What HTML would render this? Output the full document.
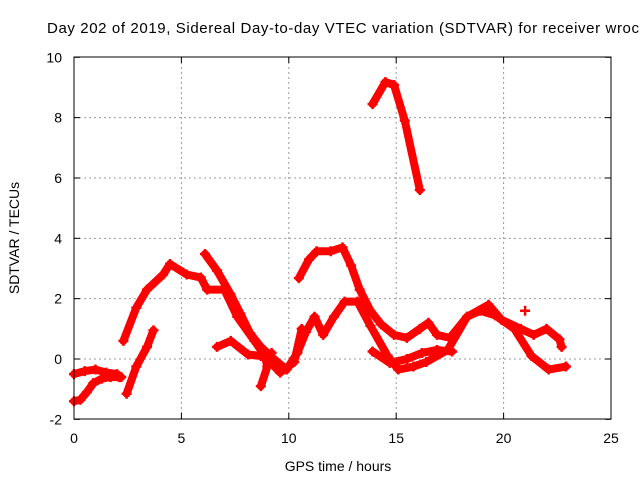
<!DOCTYPE html>
<html><head><meta charset="utf-8"><style>
body{margin:0;background:#fff}
svg{display:block;font-family:"Liberation Sans",sans-serif}
</style></head><body>
<svg id="c" width="640" height="480">
<text x="47" y="33" font-size="15" textLength="592" lengthAdjust="spacing">Day 202 of 2019, Sidereal Day-to-day VTEC variation (SDTVAR) for receiver wroc</text>
<g id="grid"></g><g id="ticks"></g><g id="series"></g>
<rect x="74" y="57" width="537" height="362" fill="none" stroke="#000" stroke-width="1"/>
<text x="338" y="471" font-size="14" text-anchor="middle">GPS time / hours</text>
<text transform="translate(19,238) rotate(-90)" font-size="14" text-anchor="middle">SDTVAR / TECUs</text>
</svg>
<script>
const xTicks=[0,5,10,15,20,25];
const yTicks=[-2,0,2,4,6,8,10];
const s1=[[0,-0.5],[0.5,-0.4],[1,-0.35],[1.5,-0.45],[2,-0.5],[2.2,-0.6]];
const s2=[[0,-1.4],[0.3,-1.35],[0.6,-1.1],[0.9,-0.8],[1.3,-0.65],[1.7,-0.6],[2.1,-0.6]];
const s3=[[2.3,0.6],[2.9,1.7],[3.4,2.3],[4.15,2.8],[4.47,3.15],[5.25,2.8],[5.9,2.7],[6.2,2.3],[7.0,2.3],[7.6,1.4],[8.4,0.6],[9,0],[9.6,-0.45],[10.25,-0.1],[10.6,1.0]];
const s4=[[2.45,-1.15],[2.9,-0.25],[3.4,0.4],[3.7,0.95]];
const s5=[[6.1,3.48],[6.66,2.93],[7.28,2.16],[7.75,1.5],[8.2,0.85],[8.7,0.4],[9.3,0],[9.9,-0.35],[10.4,0.2],[10.8,0.9],[11.2,1.4],[11.6,0.8],[12.1,1.4],[12.6,1.9],[13.2,1.9],[13.8,1.1],[14.6,0.1],[15.1,-0.35],[15.8,-0.25],[16.4,-0.1],[17.4,0.3],[18.3,1.4],[18.9,1.6],[19.6,1.45],[20.5,1.0],[21.3,0.1],[22.1,-0.35],[22.9,-0.25]];
const s6=[[6.66,0.4],[7.3,0.6],[8.1,0.15],[8.7,0.1],[9.2,0.2]];
const s7=[[8.7,-0.9],[9,-0.25],[8.85,0.2]];
const s8=[[10.47,2.68],[10.94,3.3],[11.3,3.57],[11.95,3.57],[12.5,3.7],[12.9,3.1],[13.3,2.3],[13.8,1.6],[14.3,1.15],[14.9,0.8],[15.5,0.7],[16.1,1.0],[16.5,1.2],[16.9,0.8],[17.5,0.7],[18.3,1.4],[19.3,1.8],[19.9,1.3],[20.8,1.0],[21.4,0.8],[22,1.0],[22.6,0.65],[22.7,0.4]];
const s9=[[13.9,0.25],[14.7,-0.13],[15.5,0],[16.2,0.2],[16.9,0.3],[17.6,0.25]];
const s10=[[13.9,8.45],[14.5,9.18],[14.9,9.08],[15.4,7.9],[16.1,5.6]];
const s11=[[21,1.6]];
const allSeries=[s1,s2,s3,s4,s5,s6,s7,s8,s9,s10,s11];
const NS="http://www.w3.org/2000/svg";
const X=v=>74+v*537/25, Y=v=>359-v*30.17;
function mk(t,a,p){const e=document.createElementNS(NS,t);for(const k in a)e.setAttribute(k,a[k]);p.appendChild(e);return e;}
const g=document.getElementById('grid'),tk=document.getElementById('ticks'),se=document.getElementById('series');
xTicks.forEach(v=>{
 if(v>0&&v<25){const l=mk('line',{x1:X(v),x2:X(v),y1:57,y2:419,stroke:'#999','stroke-dasharray':'2,3'},g);
 
 }
 const t=mk('text',{x:X(v),y:443,'font-size':14,'text-anchor':'middle'},tk);t.textContent=v;
 
 
 mk('line',{x1:X(v),x2:X(v),y1:419,y2:413,stroke:'#000'},tk);mk('line',{x1:X(v),x2:X(v),y1:57,y2:63,stroke:'#000'},tk);
});
yTicks.forEach(v=>{
 if(v>-2&&v<10){const l=mk('line',{x1:74,x2:611,y1:Y(v),y2:Y(v),stroke:'#999','stroke-dasharray':'2,3'},g);
 
 }
 const t=mk('text',{x:62,y:Y(v)+5,'font-size':14,'text-anchor':'end'},tk);t.textContent=v;
 
 
 mk('line',{x1:74,x2:80,y1:Y(v),y2:Y(v),stroke:'#000'},tk);mk('line',{x1:611,x2:605,y1:Y(v),y2:Y(v),stroke:'#000'},tk);
});
allSeries.forEach((s,i)=>{
 const pg=mk('g',{},se);
 
 
 if(s.length>1){mk('polyline',{points:s.map(p=>X(p[0])+','+Y(p[1])).join(' '),fill:'none',stroke:'#f00','stroke-width':8,'stroke-linejoin':'round','stroke-linecap':'round'},pg);}
 s.forEach(p=>{const x=X(p[0]),y=Y(p[1]);
  const m=mk('path',{d:`M${x-5},${y}H${x+5}M${x},${y-5}V${y+5}`,stroke:'#f00','stroke-width':2.5},pg);
  
  });
});
</script>
</body></html>
